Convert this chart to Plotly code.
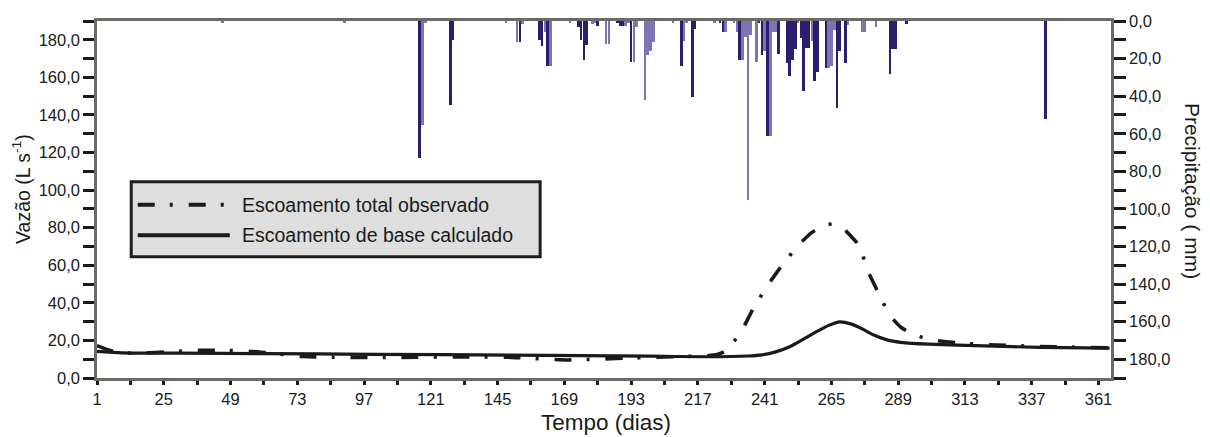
import plotly.graph_objects as go

# ---- daily rainfall (mm), two gauges ----
rain_a_day = [117, 128, 129, 153, 160, 161, 163, 174, 175, 176, 177, 181, 188, 189, 190,
              193, 211, 215, 216, 225, 226, 232, 239, 240, 242, 246, 249, 250, 251, 252,
              254, 255, 256, 257, 259, 260, 263, 267, 268, 270, 286, 287, 288, 292, 342]
rain_a_mm = [72.8, 44.5, 10.0, 11.0, 10.0, 13.5, 24.0, 3.3, 10.0, 20.5, 13.0, 2.5, 1.0, 2.5, 2.5,
             21.7, 24.0, 40.2, 4.0, 1.0, 6.0, 20.9, 1.0, 17.9, 61.4, 17.5, 22.6, 29.3, 20.5, 14.7,
             8.8, 37.0, 14.4, 14.4, 32.0, 27.2, 25.0, 46.3, 16.0, 22.3, 28.4, 15.0, 15.0, 1.5, 52.0]

rain_b_day = [46, 90, 118, 119, 148, 152, 154, 162, 164, 171, 179, 180, 184, 185, 191,
              192, 194, 195, 198, 199, 200, 201, 208, 212, 213, 223, 227, 230, 231, 233,
              234, 235, 236, 238, 241, 243, 244, 245, 253, 258, 264, 265, 266, 271, 276, 277, 281]
rain_b_mm = [0.6, 0.6, 55.6, 0.8, 1.0, 11.0, 1.4, 6.0, 24.0, 1.0, 1.5, 1.0, 12.0, 12.0, 2.5,
             0.8, 21.7, 3.0, 41.9, 17.9, 16.0, 11.0, 1.0, 10.5, 1.0, 1.0, 6.0, 1.0, 6.0, 21.0,
             8.6, 95.2, 7.4, 21.7, 16.0, 61.4, 6.0, 6.0, 1.0, 10.5, 25.0, 24.0, 4.7, 2.0, 5.6, 5.6, 3.0]

# ---- streamflow (L/s) ----
obs_day = [1, 4, 8, 15, 25, 35, 45, 55, 65, 75, 90, 110, 130, 150, 160, 170, 180, 195,
           210, 220, 224, 227, 230, 233, 237, 242, 247, 253, 258, 263, 266, 269, 272,
           275, 278, 282, 286, 290, 294, 300, 310, 320, 340, 365]
obs_q = [17.2, 15.5, 13.8, 13.2, 13.8, 14.6, 14.8, 14.3, 13.0, 11.5, 11.0, 11.0, 11.2, 11.0,
         10.2, 9.6, 10.0, 10.8, 11.4, 11.8, 12.5, 14.5, 19.5, 25.9, 37.2, 49.1, 59.5, 70.4,
         77.5, 81.5, 82.0, 80.0, 75.5, 70.4, 57.3, 45.0, 33.4, 27.0, 23.5, 20.6, 18.8, 17.8,
         16.8, 16.0]

base_day = [1, 10, 30, 60, 100, 150, 200, 220, 235, 240, 245, 250, 255, 260, 264, 268,
            272, 276, 280, 285, 290, 300, 320, 340, 365]
base_q = [14.2, 13.4, 13.2, 13.0, 12.6, 12.2, 11.6, 11.3, 11.7, 12.3, 13.9, 16.6, 20.7,
          24.9, 28.0, 29.9, 28.8, 26.2, 23.0, 20.3, 19.0, 18.0, 17.1, 16.3, 15.9]

day_ticks = list(range(1, 362, 24))
q_ticks = list(range(0, 181, 20))
p_ticks = list(range(0, 181, 20))

legend_labels = ["Escoamento total observado", "Escoamento de base calculado"]

FONT = "Liberation Sans, Arial, sans-serif"
INK = "#1a1a1a"
SPINE = "#6d6a66"
DASHDOT = "17px,15px,3px,16px"

fig = go.Figure()

fig.add_trace(go.Bar(x=rain_b_day, y=rain_b_mm, yaxis="y2", width=0.95,
                     marker=dict(color="#7e74b4", line=dict(width=0)), showlegend=False))
fig.add_trace(go.Bar(x=rain_a_day, y=rain_a_mm, yaxis="y2", width=0.95,
                     marker=dict(color="#2c1d6e", line=dict(width=0)), showlegend=False))

fig.add_trace(go.Scatter(x=base_day, y=base_q, mode="lines",
                         line=dict(color=INK, width=3.2, shape="spline", smoothing=0.6),
                         showlegend=False))
fig.add_trace(go.Scatter(x=obs_day, y=obs_q, mode="lines",
                         line=dict(color=INK, width=3.6, shape="spline", smoothing=0.6,
                                   dash=DASHDOT),
                         showlegend=False))

L, T = 97.3, 15.0
W, H = 1210, 437
R_EDGE, B_EDGE = 1110.7, 377.7
pw, ph = R_EDGE - L, B_EDGE - T


def px(xp):
    return (xp - L) / pw


def py(yp):
    return (B_EDGE - yp) / ph


# legend box drawn by hand
shapes = [
    dict(type="rect", xref="paper", yref="paper", x0=px(131.5), x1=px(540.2),
         y0=py(254.5), y1=py(178.2), fillcolor="#dedede",
         line=dict(color="#1e1e1e", width=3), layer="above"),
    dict(type="line", xref="paper", yref="paper", x0=px(138), x1=px(229),
         y0=py(201.7), y1=py(201.7),
         line=dict(color=INK, width=4, dash=DASHDOT), layer="above"),
    dict(type="line", xref="paper", yref="paper", x0=px(138), x1=px(230),
         y0=py(232.7), y1=py(232.7), line=dict(color=INK, width=4), layer="above"),
]

annotations = [
    dict(text=legend_labels[0], xref="paper", yref="paper", x=px(240), y=py(201.7),
         xanchor="left", yanchor="middle", showarrow=False,
         font=dict(family=FONT, size=19.5, color=INK)),
    dict(text=legend_labels[1], xref="paper", yref="paper", x=px(240), y=py(232.7),
         xanchor="left", yanchor="middle", showarrow=False,
         font=dict(family=FONT, size=19.5, color=INK)),
    dict(text="Vazão (L s<sup>-1</sup>)", xref="paper", yref="paper", x=px(22), y=py(186),
         xanchor="center", yanchor="middle", textangle=-90, showarrow=False,
         font=dict(family=FONT, size=19.5, color=INK)),
    dict(text="Precipitação ( mm)", xref="paper", yref="paper", x=px(1192), y=py(188),
         xanchor="center", yanchor="middle", textangle=90, showarrow=False,
         font=dict(family=FONT, size=21, color=INK)),
    dict(text="Tempo (dias)", xref="paper", yref="paper", x=px(606), y=py(423),
         xanchor="center", yanchor="middle", showarrow=False,
         font=dict(family=FONT, size=22.5, color=INK)),
]

fig.update_layout(
    width=W, height=H,
    margin=dict(l=L, r=W - R_EDGE, t=T, b=H - B_EDGE, pad=0),
    paper_bgcolor="white", plot_bgcolor="white",
    separators=", ",
    bargap=0, barmode="overlay",
    shapes=shapes, annotations=annotations,
    font=dict(family=FONT, size=16, color=INK),
    xaxis=dict(range=[1, 365.5], tickvals=day_ticks, showgrid=False, zeroline=False,
               showline=True, linecolor=SPINE, linewidth=2.5, mirror=True,
               ticks="outside", ticklen=4, tickwidth=3, tickcolor=INK,
               minor=dict(tickvals=[d + 12 for d in day_ticks], ticks="outside",
                          ticklen=4, tickwidth=3, tickcolor=INK),
               tickfont=dict(size=16.5)),
    yaxis=dict(range=[0, 190], tickvals=q_ticks, tickformat=".1f", showgrid=False,
               zeroline=False, showline=True, linecolor=SPINE, linewidth=2.5,
               ticks="outside", ticklen=11, tickwidth=3, tickcolor=INK,
               minor=dict(dtick=10, ticks="outside", ticklen=11, tickwidth=3, tickcolor=INK),
               tickfont=dict(size=16.5)),
    yaxis2=dict(range=[190, 0], overlaying="y", side="right", tickvals=p_ticks,
                tickformat=".1f", showgrid=False, zeroline=False, showline=True,
                linecolor=SPINE, linewidth=2.5, ticks="outside", ticklen=12, tickwidth=3,
                tickcolor=INK,
                minor=dict(dtick=10, ticks="outside", ticklen=12, tickwidth=3, tickcolor=INK),
                tickfont=dict(size=16.5)),
)

fig.write_html("out.html")
